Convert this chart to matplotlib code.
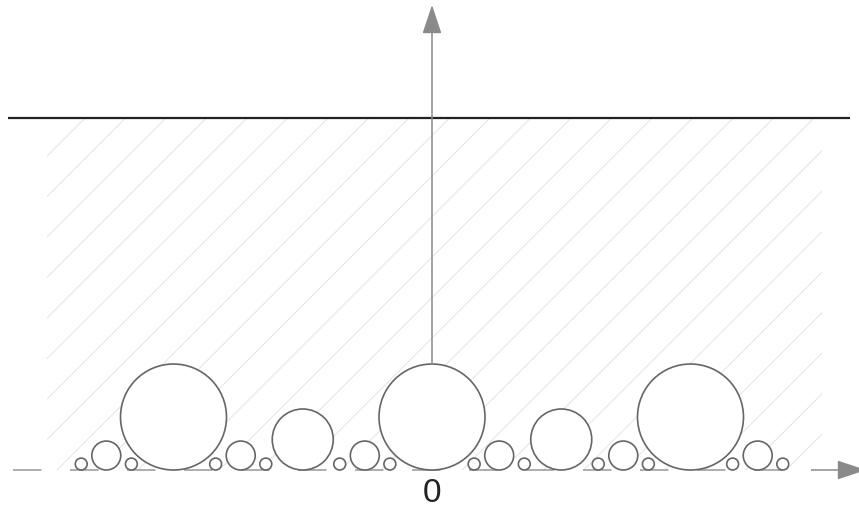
import numpy as np
import matplotlib
matplotlib.use('Agg')
import matplotlib.pyplot as plt
from matplotlib.patches import Circle, Rectangle

plt.rcParams['font.family'] = ['Liberation Sans', 'DejaVu Sans']
plt.rcParams['lines.scale_dashes'] = False

# circle layout (1 unit = distance between the big circles)
big_centers = [-1.0, 0.0, 1.0]
big_radius = 0.205
mid_centers = [-0.5, 0.5]
mid_radius = 0.118
small_offsets = [-0.26, 0.26]
small_radius = 0.056
tiny_offsets = [-0.357, -0.163, 0.163, 0.357]
tiny_radius = 0.023
origin_label = "0"

# shaded band
band_left, band_right = -1.49, 1.51
band_top = 1.362
hatch_step = 0.1567

PX = 258.5  # pixels per unit
fig = plt.figure(figsize=(8.59, 5.11), dpi=100)
ax = fig.add_axes([0, 0, 1, 1])
ax.set_xlim(-432 / PX, (859 - 432) / PX)
ax.set_ylim(-(511 - 470) / PX, 470 / PX)
ax.axis('off')

# diagonal hatching clipped to the band
clip = Rectangle((band_left, 0), band_right - band_left, band_top,
                 facecolor='none', edgecolor='none')
ax.add_patch(clip)
c0 = -2.704
cs = np.arange(c0 - 30 * hatch_step, c0 + 30 * hatch_step, hatch_step)
for c in cs:
    xs = np.array([band_left - 0.1, band_right + 0.1])
    ln, = ax.plot(xs, xs - c, color='#e4e4e4', lw=0.7, zorder=1)
    ln.set_clip_path(clip)

# top boundary
ax.plot([(8 - 432) / PX, (850 - 432) / PX], [band_top, band_top],
        color='#222222', lw=1.6, zorder=3, solid_capstyle='butt')

# dashed baseline
dash_pt = 28.5 * 72 / 100
ax.plot([(13 - 432) / PX, (812 - 432) / PX], [0, 0], color='#a0a0a0', lw=1.2,
        linestyle=(0, (dash_pt, dash_pt)), zorder=2)

# circles
def add_circle(cx, r):
    ax.add_patch(Circle((cx, r), r, facecolor='white', edgecolor='#666666',
                        lw=1.2, zorder=4))

for bc in big_centers:
    add_circle(bc, big_radius)
    for off in small_offsets:
        add_circle(bc + off, small_radius)
    for off in tiny_offsets:
        add_circle(bc + off, tiny_radius)
for mc in mid_centers:
    add_circle(mc, mid_radius)

# axes arrows
arrow = dict(arrowstyle='-|>,head_length=1.8,head_width=0.6', mutation_scale=10,
             color='#8a8a8a', lw=1.1, shrinkA=0, shrinkB=0)
ax.annotate('', xy=(0, (470 - 5) / PX), xytext=(0, 2 * big_radius),
            arrowprops=arrow, zorder=5, annotation_clip=False)
ax.annotate('', xy=((866 - 432) / PX, 0), xytext=((812 - 432) / PX, 0),
            arrowprops=arrow, zorder=5, annotation_clip=False)

ax.text(0, -23.5 / PX, origin_label, ha='center', va='center',
        fontsize=24, color='#222222')

fig.savefig('out.png', dpi=100)
